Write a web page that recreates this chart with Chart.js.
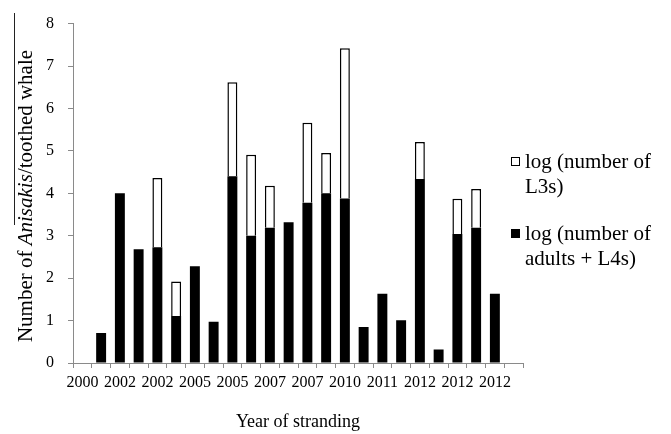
<!DOCTYPE html>
<html>
<head>
<meta charset="utf-8">
<script src="https://cdn.jsdelivr.net/npm/chart.js@4.4.1/dist/chart.umd.min.js"></script>
<style>
  html, body { margin: 0; padding: 0; background: #fff; }
  #wrap { position: relative; width: 671px; height: 434px; overflow: hidden; font-family: "Liberation Serif", "Times New Roman", serif; color: #000; }
  #c { position: absolute; left: 0; top: 0; }
  #ytitle { position: absolute; left: 25px; top: 196px; transform: translate(-50%, -50%) rotate(-90deg); white-space: nowrap; font-size: 21px; line-height: 1; }
  #yline { position: absolute; left: 14px; top: 13px; width: 1px; height: 212px; background: #222; }
  .leg { position: absolute; left: 511px; font-size: 21px; line-height: 24.5px; }
  .leg .box { position: absolute; left: 0; top: 8px; width: 9px; height: 9px; box-sizing: border-box; border: 1px solid #000; }
  .leg .txt { position: absolute; left: 14px; top: 0; white-space: nowrap; }
</style>
</head>
<body>
<div id="wrap">
  <canvas id="c" width="671" height="434"></canvas>
  <div id="yline"></div>
  <div id="ytitle">Number of <i>Anisakis</i>/toothed whale</div>
  <div id="legend"></div>
</div>
<script>
// Categories (one per stranded whale, plus empty first/last slots as in the original)
const categories = ["c0","c1","c2","c3","c4","c5","c6","c7","c8","c9","c10","c11",
                    "c12","c13","c14","c15","c16","c17","c18","c19","c20","c21","c22","c23"];
// Tick labels shown under the axis (every other category)
const tickLabels = ["2000","","2002","","2002","","2005","","2005","","2007","",
                    "2007","","2010","","2011","","2012","","2012","","2012",""];
// log (number of adults + L4s)
const adultsL4 = [null,0.71,4.00,2.68,2.73,1.11,2.28,0.97,4.40,3.00,3.19,3.32,
                  3.78,4.00,3.88,0.85,1.63,1.01,4.34,0.32,3.04,3.19,1.63,null];
// log (number of L3s) — stacked segment on top
const l3 = [null,null,null,null,1.63,0.81,null,null,2.22,1.91,0.99,null,
            1.88,0.95,3.54,null,null,null,0.87,null,0.83,0.91,null,null];
const seriesNames = ["log (number of L3s)", "log (number of adults + L4s)"];
const legendLines = [["log (number of", "L3s)"], ["log (number of", "adults + L4s)"]];

const axisGray = '#8a8a8a';
const serif = "'Liberation Serif', 'Times New Roman', serif";

new Chart(document.getElementById('c'), {
  type: 'bar',
  data: {
    labels: categories,
    datasets: [
      { label: seriesNames[1], data: adultsL4, backgroundColor: '#000000', borderWidth: 0,
        barPercentage: 0.53, categoryPercentage: 1.0 },
      { label: seriesNames[0], data: l3, backgroundColor: '#ffffff', borderColor: '#000000', borderWidth: 1.5,
        barPercentage: 0.53, categoryPercentage: 1.0 }
    ]
  },
  options: {
    responsive: false,
    animation: false,
    layout: { padding: { left: 0, right: 148, top: 22, bottom: 0 } },
    plugins: { legend: { display: false }, tooltip: { enabled: false } },
    scales: {
      x: {
        stacked: true,
        grid: { display: true, offset: true, drawOnChartArea: false, drawTicks: true, tickLength: 5, color: axisGray },
        border: { display: true, color: axisGray, width: 1 },
        ticks: {
          autoSkip: false, maxRotation: 0, minRotation: 0, padding: 5, color: '#000',
          font: { family: serif, size: 16 },
          callback: function (v, i) { return tickLabels[i]; }
        },
        title: { display: true, text: 'Year of stranding', color: '#000',
                 font: { family: serif, size: 18 }, padding: { top: 0, bottom: 1 } },
        afterFit: function (s) { s.height = 71; }
      },
      y: {
        stacked: true, min: 0, max: 8,
        grid: { display: true, drawOnChartArea: false, drawTicks: true, tickLength: 5, color: axisGray },
        border: { display: true, color: axisGray, width: 1 },
        ticks: { stepSize: 1, padding: 14, color: '#000', font: { family: serif, size: 16 } },
        afterFit: function (s) { s.width = 73; }
      }
    }
  }
});

// HTML legend built from the series names
const legTops = [149, 221];
const legFills = ['#ffffff', '#000000'];
const legendEl = document.getElementById('legend');
legendLines.forEach(function (lines, k) {
  const d = document.createElement('div');
  d.className = 'leg';
  d.style.top = legTops[k] + 'px';
  d.innerHTML = '<div class="box" style="background:' + legFills[k] + '"></div>' +
                '<div class="txt">' + lines.join('<br>') + '</div>';
  d.title = seriesNames[k];
  legendEl.appendChild(d);
});
</script>
</body>
</html>
